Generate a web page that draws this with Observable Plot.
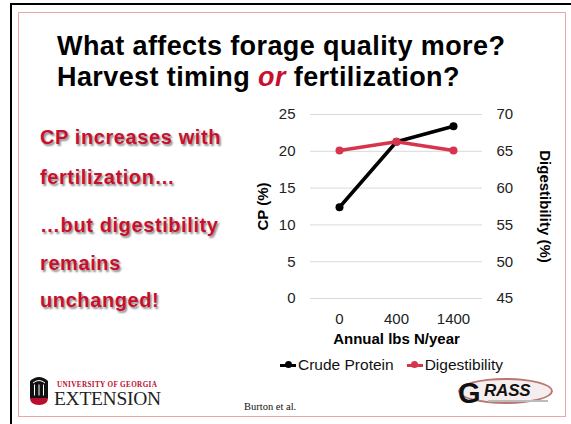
<!DOCTYPE html>
<html>
<head>
<meta charset="utf-8">
<script src="https://cdn.jsdelivr.net/npm/d3@7"></script>
<script src="https://cdn.jsdelivr.net/npm/@observablehq/plot@0.6"></script>
<style>
  html, body { margin: 0; padding: 0; background: #fff; }
  body { width: 571px; height: 424px; position: relative; overflow: hidden;
         font-family: "Liberation Sans", Arial, sans-serif; }
  .abs { position: absolute; }
  #outer { left: 10px; top: 3px; width: 600px; height: 500px;
           border-left: 2px solid #000; border-top: 2px solid #000; }
  #inner { left: 18px; top: 12px; width: 548px; height: 405px; box-sizing: border-box;
           border: 1.5px solid #eba5a5; }
  #title { left: 57px; top: 31px; font-size: 27px; font-weight: bold; line-height: 31px;
           color: #000; white-space: nowrap; letter-spacing: 0.4px; }
  #title em { color: #c8102e; }
  .side { left: 40px; font-size: 20px; font-weight: bold; line-height: 20px; color: #c8102e;
          white-space: nowrap; letter-spacing: 0.6px;
          text-shadow: 1.5px 1.5px 2px rgba(0,0,0,0.45); }
  #chart { left: 240px; top: 100px; }
  #legend { left: 280px; top: 356px; font-size: 15.5px; line-height: 18px; color: #111;
            white-space: nowrap; display: flex; align-items: center; }
  .item { display: flex; align-items: center; }
  .sw { position: relative; width: 16px; height: 3px; margin-right: 2px; }
  .sw::after { content: ""; position: absolute; left: 4.5px; top: -2.5px; width: 7px; height: 7px;
               border-radius: 50%; background: inherit; }
  #cite { left: 244px; top: 401px; font-family: "Liberation Serif", "Times New Roman", serif;
          font-size: 10.5px; color: #111; white-space: nowrap; }
  #uga-icon { left: 30px; top: 375px; width: 18px; height: 30px; }
  #uga-top { left: 57px; top: 381px; font-family: "Liberation Serif", serif; font-size: 7.2px;
             font-weight: bold; color: #ba0c2f; letter-spacing: 0.35px; white-space: nowrap; }
  #uga-ext { left: 54px; top: 388px; font-family: "Liberation Serif", serif; font-size: 19.5px;
             color: #222; white-space: nowrap; letter-spacing: -0.3px; }
  #grass { left: 458px; top: 378px; width: 95px; height: 26px; box-sizing: border-box;
           border: 2px solid #b9786f; border-radius: 50%; background: #f6eeee; }
  #grass-g { left: 458px; top: 380px; font-size: 29px; line-height: 26px; font-weight: 900; color: #111;
             font-family: "Liberation Sans", Arial, sans-serif; }
  #grass-r { left: 484px; top: 381px; font-size: 17px; font-weight: bold; font-style: italic;
             color: #111; letter-spacing: -0.2px; }
  #grass-tag { left: 488px; top: 400px; width: 60px; height: 2px; background: #bbb; }
</style>
</head>
<body>
<div id="outer" class="abs"></div>
<div id="inner" class="abs"></div>

<div id="title" class="abs">What affects forage quality more?<br>Harvest timing <em>or</em> fertilization?</div>

<div class="abs side" style="top:127px">CP increases with</div>
<div class="abs side" style="top:167px">fertilization…</div>
<div class="abs side" style="top:215px">…but digestibility</div>
<div class="abs side" style="top:253px">remains</div>
<div class="abs side" style="top:290px">unchanged!</div>

<div id="chart" class="abs"></div>
<div id="legend" class="abs"></div>

<div id="cite" class="abs">Burton et al.</div>

<svg id="uga-icon" class="abs" viewBox="0 0 18 30">
  <path d="M0 6 Q9 -2 18 6 L18 24 L0 24 Z" fill="#111"/>
  <path d="M3 8 Q9 3 15 8" stroke="#fff" stroke-width="1" fill="none"/>
  <rect x="4" y="9.5" width="1" height="11" fill="#fff"/>
  <rect x="8.5" y="9.5" width="1" height="11" fill="#fff"/>
  <rect x="13" y="9.5" width="1" height="11" fill="#fff"/>
  <path d="M0 23 L18 23 Q18 30 9 30 Q0 30 0 23 Z" fill="#ba0c2f"/>
</svg>
<div id="uga-top" class="abs">UNIVERSITY OF GEORGIA</div>
<div id="uga-ext" class="abs">EXTENSION</div>

<div id="grass" class="abs"></div>
<div id="grass-g" class="abs">G</div>
<div id="grass-r" class="abs">RASS</div>
<div id="grass-tag" class="abs"></div>

<script>
// ---- data ----
const nLevels = ["0", "400", "1400"];          // Annual lbs N/year
const cpValues = [12.4, 21.3, 23.4];           // Crude Protein (%)
const digValues = [65.1, 66.3, 65.1];          // Digestibility (%)
const cpTicks = [0, 5, 10, 15, 20, 25];
const digTicks = [45, 50, 55, 60, 65, 70];
const seriesNames = ["Crude Protein", "Digestibility"];
const seriesColors = ["#000000", "#d7354d"];

const cpData = nLevels.map((n, i) => ({n, v: cpValues[i]}));
const digData = nLevels.map((n, i) => ({n, v: digValues[i]}));
const offset = digTicks[0] - cpTicks[0]; // secondary axis offset (45 ↔ 0)

const chart = Plot.plot({
  width: 320,
  height: 255,
  marginLeft: 70,
  marginRight: 78,
  marginTop: 14,
  marginBottom: 57,
  style: {fontFamily: "Liberation Sans, Arial, sans-serif", fontSize: "15px", color: "#000", background: "transparent", overflow: "visible"},
  x: {type: "point", domain: nLevels, padding: 0.5, label: null},
  y: {domain: [cpTicks[0], cpTicks[cpTicks.length - 1]], label: null},
  marks: [
    Plot.gridY(cpTicks, {stroke: "#d9d9d9", strokeOpacity: 1, strokeWidth: 1}),
    Plot.axisY(cpTicks, {anchor: "left", tickSize: 0, tickPadding: 15, label: null, fill: "#222"}),
    Plot.axisY(cpTicks, {anchor: "right", tickSize: 0, tickPadding: 14, label: null, fill: "#222",
                         tickFormat: (d) => String(d + offset)}),
    Plot.axisX({tickSize: 0, tickPadding: 15, label: null, fill: "#222"}),
    Plot.line(cpData, {x: "n", y: "v", stroke: seriesColors[0], strokeWidth: 3.5}),
    Plot.dot(cpData, {x: "n", y: "v", r: 4, fill: seriesColors[0]}),
    Plot.line(digData, {x: "n", y: (d) => d.v - offset, stroke: seriesColors[1], strokeWidth: 3.5}),
    Plot.dot(digData, {x: "n", y: (d) => d.v - offset, r: 4, fill: seriesColors[1]}),
    Plot.text(["CP (%)"], {text: (d) => d, frameAnchor: "left", textAnchor: "middle", dx: -53, rotate: -90, lineAnchor: "top", fontWeight: "bold", fill: "#000"}),
    Plot.text(["Digestibility (%)"], {text: (d) => d, frameAnchor: "right", textAnchor: "middle", dx: 68, rotate: 90, lineAnchor: "top", fontWeight: "bold", fill: "#000"}),
    Plot.text(["Annual lbs N/year"], {text: (d) => d, frameAnchor: "bottom", dy: 45, lineAnchor: "bottom", fontWeight: "bold", fill: "#000"})
  ]
});
document.getElementById("chart").appendChild(chart);

// legend
const legend = document.getElementById("legend");
seriesNames.forEach((name, i) => {
  const item = document.createElement("div");
  item.className = "item";
  if (i > 0) item.style.marginLeft = "13px";
  const sw = document.createElement("span");
  sw.className = "sw";
  sw.style.background = seriesColors[i];
  const label = document.createElement("span");
  label.textContent = name;
  item.appendChild(sw);
  item.appendChild(label);
  legend.appendChild(item);
});
</script>
</body>
</html>
